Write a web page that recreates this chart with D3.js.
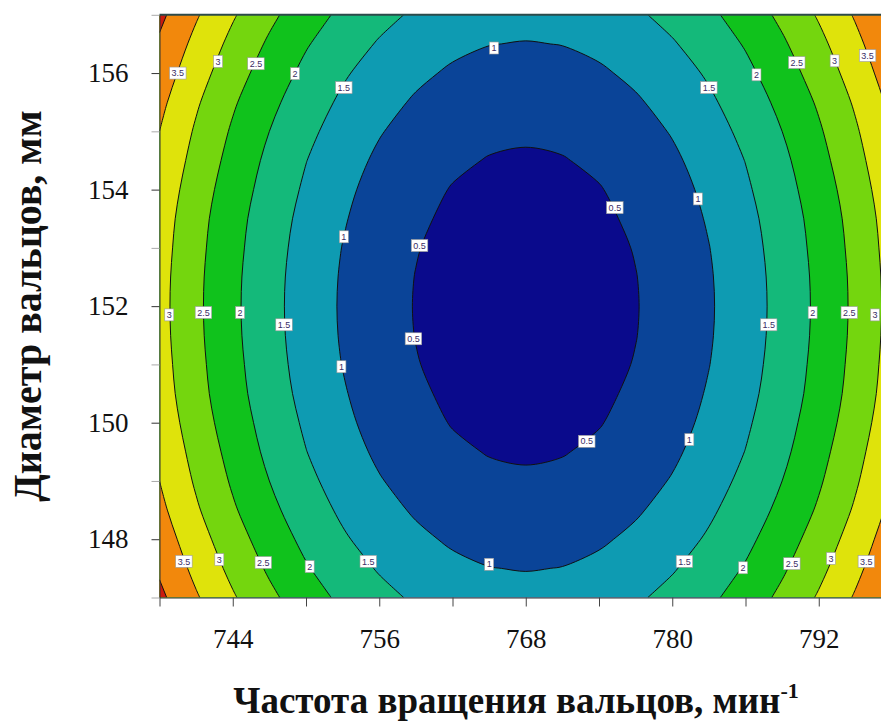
<!DOCTYPE html>
<html>
<head>
<meta charset="utf-8">
<script src="https://cdn.jsdelivr.net/npm/d3@7"></script>
<style>
  body { margin: 0; background: #ffffff; }
  svg { display: block; }
</style>
</head>
<body>
<svg id="chart" width="881" height="722"></svg>
<script>
// ---------- data ----------
const xValues = [738, 741, 744, 747, 750, 753, 756, 759, 762, 765, 768, 771, 774, 777, 780, 783, 786, 789, 792, 795, 798];
const yValues = [147, 147.5, 148, 148.5, 149, 149.5, 150, 150.5, 151, 151.5, 152, 152.5, 153, 153.5, 154, 154.5, 155, 155.5, 156, 156.5, 157];
// zValues[j][i] : value at (xValues[i], yValues[j])
const zValues = [
  [4.11,3.55,3.05,2.61,2.22,1.90,1.64,1.43,1.28,1.19,1.17,1.19,1.28,1.43,1.64,1.90,2.22,2.61,3.05,3.55,4.11],
  [3.93,3.37,2.87,2.43,2.04,1.72,1.46,1.25,1.10,1.01,0.98,1.01,1.10,1.25,1.46,1.72,2.04,2.43,2.87,3.37,3.93],
  [3.77,3.21,2.71,2.27,1.88,1.56,1.29,1.09,0.94,0.85,0.82,0.85,0.94,1.09,1.29,1.56,1.88,2.27,2.71,3.21,3.77],
  [3.62,3.06,2.56,2.12,1.74,1.42,1.15,0.95,0.80,0.71,0.68,0.71,0.80,0.95,1.15,1.42,1.74,2.12,2.56,3.06,3.62],
  [3.50,2.94,2.44,2.00,1.62,1.29,1.03,0.82,0.67,0.59,0.56,0.59,0.67,0.82,1.03,1.29,1.62,2.00,2.44,2.94,3.50],
  [3.40,2.84,2.34,1.89,1.51,1.19,0.92,0.72,0.57,0.48,0.45,0.48,0.57,0.72,0.92,1.19,1.51,1.89,2.34,2.84,3.40],
  [3.31,2.75,2.25,1.81,1.43,1.10,0.84,0.63,0.48,0.40,0.37,0.40,0.48,0.63,0.84,1.10,1.43,1.81,2.25,2.75,3.31],
  [3.24,2.68,2.18,1.74,1.36,1.04,0.77,0.57,0.42,0.33,0.30,0.33,0.42,0.57,0.77,1.04,1.36,1.74,2.18,2.68,3.24],
  [3.20,2.64,2.14,1.70,1.31,0.99,0.72,0.52,0.37,0.28,0.25,0.28,0.37,0.52,0.72,0.99,1.31,1.70,2.14,2.64,3.20],
  [3.17,2.61,2.11,1.67,1.28,0.96,0.70,0.49,0.34,0.25,0.22,0.25,0.34,0.49,0.70,0.96,1.28,1.67,2.11,2.61,3.17],
  [3.16,2.60,2.10,1.66,1.27,0.95,0.69,0.48,0.33,0.24,0.21,0.24,0.33,0.48,0.69,0.95,1.27,1.66,2.10,2.60,3.16],
  [3.17,2.61,2.11,1.67,1.28,0.96,0.70,0.49,0.34,0.25,0.22,0.25,0.34,0.49,0.70,0.96,1.28,1.67,2.11,2.61,3.17],
  [3.20,2.64,2.14,1.70,1.31,0.99,0.72,0.52,0.37,0.28,0.25,0.28,0.37,0.52,0.72,0.99,1.31,1.70,2.14,2.64,3.20],
  [3.24,2.68,2.18,1.74,1.36,1.04,0.77,0.57,0.42,0.33,0.30,0.33,0.42,0.57,0.77,1.04,1.36,1.74,2.18,2.68,3.24],
  [3.31,2.75,2.25,1.81,1.43,1.10,0.84,0.63,0.48,0.40,0.37,0.40,0.48,0.63,0.84,1.10,1.43,1.81,2.25,2.75,3.31],
  [3.40,2.84,2.34,1.89,1.51,1.19,0.92,0.72,0.57,0.48,0.45,0.48,0.57,0.72,0.92,1.19,1.51,1.89,2.34,2.84,3.40],
  [3.50,2.94,2.44,2.00,1.62,1.29,1.03,0.82,0.67,0.59,0.56,0.59,0.67,0.82,1.03,1.29,1.62,2.00,2.44,2.94,3.50],
  [3.62,3.06,2.56,2.12,1.74,1.42,1.15,0.95,0.80,0.71,0.68,0.71,0.80,0.95,1.15,1.42,1.74,2.12,2.56,3.06,3.62],
  [3.77,3.21,2.71,2.27,1.88,1.56,1.29,1.09,0.94,0.85,0.82,0.85,0.94,1.09,1.29,1.56,1.88,2.27,2.71,3.21,3.77],
  [3.93,3.37,2.87,2.43,2.04,1.72,1.46,1.25,1.10,1.01,0.98,1.01,1.10,1.25,1.46,1.72,2.04,2.43,2.87,3.37,3.93],
  [4.11,3.55,3.05,2.61,2.22,1.90,1.64,1.43,1.28,1.19,1.17,1.19,1.28,1.43,1.64,1.90,2.22,2.61,3.05,3.55,4.11]
];
const levels = [0.5, 1, 1.5, 2, 2.5, 3, 3.5, 4];
const bandColors = ["#0a0a8c", "#0a4498", "#0e9bb2", "#14b97a", "#10c21c", "#74d60e", "#dfe30b", "#f2880c", "#cc1a0e"];

const xTicks = [738, 744, 750, 756, 762, 768, 774, 780, 786, 792, 798];
const xTickLabels = [744, 756, 768, 780, 792];
const yTicks = [147, 148, 149, 150, 151, 152, 153, 154, 155, 156, 157];
const yTickLabels = [148, 150, 152, 154, 156];

// contour labels: [level, x, y]
const contourLabels = [
  [3.5, 739.5, 156.0], [3, 742.8, 156.2], [2.5, 745.9, 156.16], [2, 749.1, 155.99], [1.5, 753.1, 155.75],
  [1, 765.4, 156.43], [1.5, 783.0, 155.75], [2, 786.9, 155.97], [2.5, 790.2, 156.18], [3, 793.3, 156.21], [3.5, 796.0, 156.3],
  [0.5, 775.3, 153.69], [1, 782.1, 153.84], [1, 753.1, 153.19], [0.5, 759.3, 153.04],
  [3, 738.8, 151.85], [2.5, 741.6, 151.89], [2, 744.6, 151.89], [1.5, 748.2, 151.68],
  [1.5, 787.9, 151.68], [2, 791.5, 151.89], [2.5, 794.5, 151.89], [3, 796.6, 151.85],
  [0.5, 758.8, 151.44], [1, 752.9, 150.96], [0.5, 773.0, 149.68], [1, 781.4, 149.71],
  [3.5, 740.0, 147.62], [3, 742.9, 147.65], [2.5, 746.5, 147.6], [2, 750.3, 147.53], [1.5, 755.1, 147.62],
  [1, 765.0, 147.57], [1.5, 781.0, 147.62], [2, 785.8, 147.51], [2.5, 789.8, 147.58], [3, 793.0, 147.67], [3.5, 795.9, 147.62]
];

const xTitle = "Частота вращения вальцов, мин";
const xTitleSup = "-1";
const yTitle = "Диаметр вальцов, мм";

// ---------- layout ----------
const serif = "'Liberation Serif', 'Times New Roman', 'DejaVu Serif', serif";
const svg = d3.select("#chart");
svg.append("rect").attr("width", 881).attr("height", 722).attr("fill", "#ffffff");

const x = d3.scaleLinear().domain([738, 798]).range([159.5, 892]);
const y = d3.scaleLinear().domain([147, 157]).range([597.5, 14.8]);

const n = xValues.length, m = yValues.length;
const ix = d3.scaleLinear().domain([0.5, n - 0.5]).range([xValues[0], xValues[n - 1]]);
const iy = d3.scaleLinear().domain([0.5, m - 0.5]).range([yValues[0], yValues[m - 1]]);

const defs = svg.append("defs");
defs.append("clipPath").attr("id", "plotClip")
  .append("rect")
  .attr("x", x(738)).attr("y", y(157))
  .attr("width", x(798) - x(738)).attr("height", y(147) - y(157));

const plot = svg.append("g").attr("clip-path", "url(#plotClip)");
plot.append("rect")
  .attr("x", x(738)).attr("y", y(157))
  .attr("width", x(798) - x(738)).attr("height", y(147) - y(157))
  .attr("fill", bandColors[0]);

const contours = d3.contours().size([n, m]).thresholds(levels)(zValues.flat());

const eps = 1e-6;
function toPx(p) {
  const cx = Math.min(Math.max(p[0], 0.5), n - 0.5);
  const cy = Math.min(Math.max(p[1], 0.5), m - 0.5);
  let edge = 0;
  if (cx <= 0.5 + eps) edge |= 1;
  if (cx >= n - 0.5 - eps) edge |= 2;
  if (cy <= 0.5 + eps) edge |= 4;
  if (cy >= m - 0.5 - eps) edge |= 8;
  return [x(ix(cx)), y(iy(cy)), edge];
}
const openLine = d3.line().curve(d3.curveCatmullRom.alpha(0.5));
const closedLine = d3.line().curve(d3.curveCatmullRomClosed.alpha(0.5));

function ringPaths(ring) {
  let pts = ring.slice(0, -1).map(toPx);
  pts = pts.filter((p, i, a) => {
    const q = a[(i - 1 + a.length) % a.length];
    return Math.abs(p[0] - q[0]) > 0.01 || Math.abs(p[1] - q[1]) > 0.01;
  });
  if (pts.length < 3) return { fill: "", stroke: "" };
  const k = pts.findIndex(p => p[2]);
  if (k < 0) {
    const d = closedLine(pts.map(p => [p[0], p[1]]));
    return { fill: d, stroke: d };
  }
  pts = pts.slice(k).concat(pts.slice(0, k));
  pts.push(pts[0]);
  const isB = (a, b) => (a[2] & b[2]) !== 0;
  let fill = `M${pts[0][0]},${pts[0][1]}`, stroke = "";
  const N = pts.length - 1;
  let i = 0;
  while (i < N) {
    if (isB(pts[i], pts[i + 1])) {
      fill += `L${pts[i + 1][0]},${pts[i + 1][1]}`;
      i++;
    } else {
      let j = i + 1;
      while (j < N && !isB(pts[j], pts[j + 1])) j++;
      const run = pts.slice(i, j + 1).map(p => [p[0], p[1]]);
      const d = openLine(run);
      fill += d.replace(/^M[^CLZ]*/, "");
      stroke += d;
      i = j;
    }
  }
  fill += "Z";
  return { fill, stroke };
}

const strokes = [];
contours.forEach((c, ci) => {
  let fillD = "", strokeD = "";
  c.coordinates.forEach(poly => poly.forEach(ring => {
    const r = ringPaths(ring);
    fillD += r.fill; strokeD += r.stroke;
  }));
  plot.append("path").attr("d", fillD).attr("fill", bandColors[ci + 1]).attr("fill-rule", "evenodd");
  strokes.push(strokeD);
});
strokes.forEach(d => {
  plot.append("path").attr("d", d).attr("fill", "none").attr("stroke", "#111").attr("stroke-width", 1);
});

// contour labels
const labG = svg.append("g").attr("clip-path", "url(#plotClip)");
contourLabels.forEach(([lv, lx, ly]) => {
  const g = labG.append("g").attr("transform", `translate(${x(lx)},${y(ly)})`);
  const t = g.append("text")
    .attr("text-anchor", "middle").attr("dy", "0.35em")
    .style("font-family", "'Liberation Sans', Arial, sans-serif")
    .style("font-size", "9px").attr("fill", "#3a2d66")
    .text(String(lv));
  const w = t.node().getComputedTextLength();
  g.insert("rect", "text")
    .attr("x", -w / 2 - 2).attr("y", -6).attr("width", w + 4).attr("height", 12)
    .attr("fill", "#ffffff").attr("stroke", "#9a9a9a").attr("stroke-width", 0.6);
});

// frame
svg.append("line").attr("x1", x(738)).attr("x2", 881).attr("y1", y(157)).attr("y2", y(157))
  .attr("stroke", "#2c4a4a").attr("stroke-width", 2);

// axes
const yAxis = d3.axisLeft(y).tickValues(yTicks).tickSize(8).tickSizeOuter(0).tickPadding(23)
  .tickFormat(d => yTickLabels.includes(d) ? String(d) : "");
const yg = svg.append("g").attr("transform", `translate(${x(738)},0)`).call(yAxis)
  .attr("font-family", null).attr("font-size", null);
yg.select(".domain").attr("stroke", "#333").attr("stroke-width", 1);
yg.selectAll(".tick line").attr("stroke", d => yTickLabels.includes(d) ? "#333" : "#aaa");
yg.selectAll(".tick text").style("font-family", serif)
  .style("font-size", "27px").attr("fill", "#111");

const xAxis = d3.axisBottom(x).tickValues(xTicks).tickSize(9).tickSizeOuter(0).tickPadding(22)
  .tickFormat(d => xTickLabels.includes(d) ? String(d) : "");
const xg = svg.append("g").attr("transform", `translate(0,${y(147)})`).call(xAxis)
  .attr("font-family", null).attr("font-size", null);
xg.select(".domain").attr("stroke", "#333").attr("stroke-width", 1);
xg.selectAll(".tick line").attr("stroke", "#444");
xg.selectAll(".tick text").style("font-family", serif)
  .style("font-size", "27px").attr("fill", "#111");

// titles
const xt = svg.append("text")
  .attr("x", 516).attr("y", 713).attr("text-anchor", "middle")
  .style("font-family", serif)
  .style("font-weight", "bold").style("font-size", "37px").attr("fill", "#111");
xt.append("tspan").text(xTitle);
xt.append("tspan").attr("dy", -15).style("font-size", "22px").text(xTitleSup);

svg.append("text")
  .attr("transform", "translate(41,306) rotate(-90)")
  .attr("text-anchor", "middle")
  .style("font-family", serif)
  .style("font-weight", "bold").style("font-size", "40px").attr("fill", "#111")
  .text(yTitle);
</script>
</body>
</html>
